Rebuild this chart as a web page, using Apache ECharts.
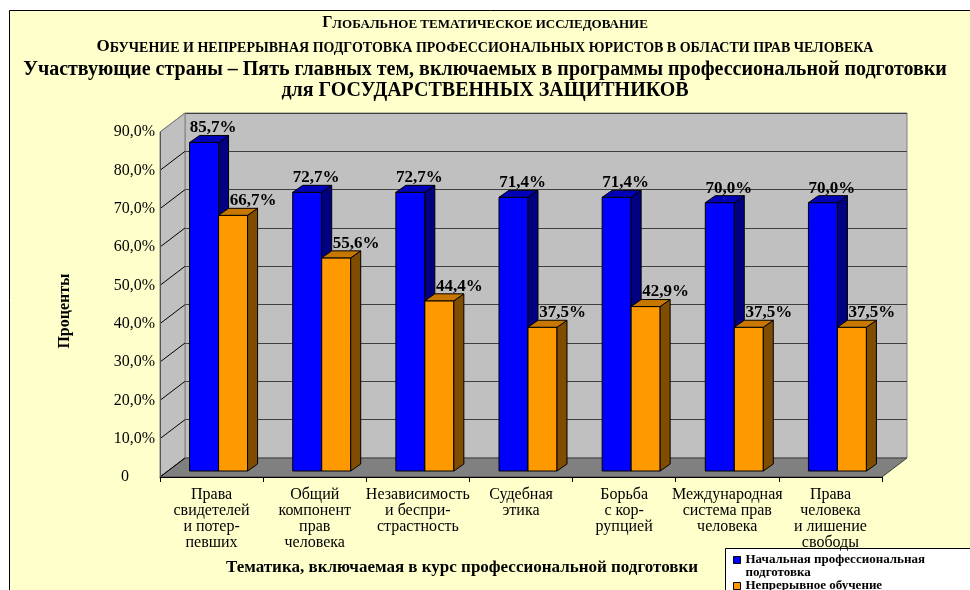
<!DOCTYPE html>
<html>
<head>
<meta charset="utf-8">
<style>
  html, body { margin: 0; padding: 0; background: #fff; overflow: hidden; }
  #main { width: 970px; height: 590px; }
</style>
<script src="https://cdn.jsdelivr.net/npm/echarts@6.0.0/dist/echarts.min.js"></script>
</head>
<body>
<div id="main"></div>
<script>
const categories = [
  'Права\nсвидетелей\nи потер-\nпевших',
  'Общий\nкомпонент\nправ\nчеловека',
  'Независимость\nи беспри-\nстрастность',
  'Судебная\nэтика',
  'Борьба\nс кор-\nрупцией',
  'Международная\nсистема прав\nчеловека',
  'Права\nчеловека\nи лишение\nсвободы',
]
const initialTraining = [85.7, 72.7, 72.7, 71.4, 71.4, 70.0, 70.0]
const continuingEducation = [66.7, 55.6, 44.4, 37.5, 42.9, 37.5, 37.5]
const yTicks = [0, 10, 20, 30, 40, 50, 60, 70, 80, 90]

const seriesNames = ['Начальная профессиональная подготовка', 'Непрерывное обучение']

const SERIF = '"Liberation Serif", "Times New Roman", serif'
const GRID = { left: 160, right: 88, top: 132, bottom: 113 }
const WALL = { dx: 25, dy: -19 }
const GROUP = { dx: 7, dy: -6 }
const DEPTH = { dx: 10, dy: -7 }
const BAR_W = 29
const LABEL_DX = [9, 20]
const COLORS = [
  { front: '#0000ff', side: '#000080', top: '#0000b8' },
  { front: '#ff9900', side: '#7f4c00', top: '#c87800' },
]

const pct = v => v.toFixed(1).replace('.', ',') + '%'

function renderWalls(params, api) {
  const bw = api.size([1, 0])[0]
  const first = api.coord([0, 0])
  const last = api.coord([categories.length - 1, 0])
  const x0 = first[0] - bw / 2
  const x1 = last[0] + bw / 2
  const y0 = first[1]
  const yTop = api.coord([0, yTicks[yTicks.length - 1]])[1]

  const children = [
    {
      type: 'polygon',
      shape: { points: [[x0, y0], [x0, yTop], [x0 + WALL.dx, yTop + WALL.dy], [x0 + WALL.dx, y0 + WALL.dy]] },
      style: { fill: '#c0c0c0', stroke: '#808080', lineWidth: 1 },
    },
    {
      type: 'polygon',
      shape: { points: [[x0, y0], [x1, y0], [x1 + WALL.dx, y0 + WALL.dy], [x0 + WALL.dx, y0 + WALL.dy]] },
      style: { fill: '#808080', stroke: '#404040', lineWidth: 1 },
    },
  ]
  yTicks.forEach(v => {
    const y = api.coord([0, v])[1]
    children.push({
      type: 'line',
      shape: { x1: x0, y1: y, x2: x0 + WALL.dx, y2: y + WALL.dy },
      style: { stroke: v === yTicks[yTicks.length - 1] ? '#808080' : '#000', lineWidth: 1 },
    })
  })
  return { type: 'group', children }
}

function renderBar(seriesIdx) {
  return (params, api) => {
    const idx = api.value(0)
    const val = api.value(1)
    const base = api.coord([idx, 0])
    const top = api.coord([idx, val])
    const x1 = base[0] + GROUP.dx - BAR_W + seriesIdx * BAR_W
    const x2 = x1 + BAR_W
    const yb = base[1] + GROUP.dy
    const yt = top[1] + GROUP.dy
    const c = COLORS[seriesIdx]
    const edge = { stroke: '#000', lineWidth: 1 }

    return {
      type: 'group',
      children: [
        {
          type: 'polygon',
          shape: { points: [[x1, yb], [x2, yb], [x2, yt], [x1, yt]] },
          style: Object.assign({ fill: c.front }, edge),
        },
        {
          type: 'polygon',
          shape: { points: [[x2, yb], [x2 + DEPTH.dx, yb + DEPTH.dy], [x2 + DEPTH.dx, yt + DEPTH.dy], [x2, yt]] },
          style: Object.assign({ fill: c.side }, edge),
        },
        {
          type: 'polygon',
          shape: { points: [[x1, yt], [x2, yt], [x2 + DEPTH.dx, yt + DEPTH.dy], [x1 + DEPTH.dx, yt + DEPTH.dy]] },
          style: Object.assign({ fill: c.top }, edge),
        },
        {
          type: 'text',
          z2: 10,
          style: {
            text: pct(val),
            x: (x1 + x2) / 2 + LABEL_DX[seriesIdx],
            y: yt + DEPTH.dy + 1,
            align: 'center',
            verticalAlign: 'bottom',
            font: 'bold 17px ' + SERIF,
            fill: '#000',
          },
        },
      ],
    }
  }
}

const chart = echarts.init(document.getElementById('main'))

const option = {
  backgroundColor: '#fff',
  animation: false,
  title: [
    {
      text: '{a|Г}{b|ЛОБАЛЬНОЕ ТЕМАТИЧЕСКОЕ ИССЛЕДОВАНИЕ}',
      left: 'center',
      top: 15,
      padding: 0,
      textStyle: {
        rich: {
          a: { fontFamily: SERIF, fontWeight: 'bold', fontSize: 16, lineHeight: 16, verticalAlign: 'bottom', color: '#000' },
          b: { fontFamily: SERIF, fontWeight: 'bold', fontSize: 13, lineHeight: 13, verticalAlign: 'bottom', color: '#000' },
        },
      },
    },
    {
      text: '{a|О}{b|БУЧЕНИЕ И НЕПРЕРЫВНАЯ ПОДГОТОВКА ПРОФЕССИОНАЛЬНЫХ ЮРИСТОВ В ОБЛАСТИ ПРАВ ЧЕЛОВЕКА}',
      left: 'center',
      top: 38,
      padding: 0,
      textStyle: {
        rich: {
          a: { fontFamily: SERIF, fontWeight: 'bold', fontSize: 17, lineHeight: 17, verticalAlign: 'bottom', color: '#000' },
          b: { fontFamily: SERIF, fontWeight: 'bold', fontSize: 14, lineHeight: 14, verticalAlign: 'bottom', color: '#000' },
        },
      },
    },
    {
      text: 'Участвующие страны – Пять главных тем, включаемых в программы профессиональной подготовки\nдля ГОСУДАРСТВЕННЫХ ЗАЩИТНИКОВ',
      left: 'center',
      top: 59,
      padding: 0,
      textStyle: { fontFamily: SERIF, fontWeight: 'bold', fontSize: 20, lineHeight: 21, color: '#000' },
    },
  ],
  graphic: [
    {
      type: 'rect',
      z: -100,
      silent: true,
      shape: { x: 9, y: 10, width: 2000, height: 2000 },
      style: { fill: '#ffffcc' },
    },
    {
      type: 'polyline',
      z: -99,
      silent: true,
      shape: { points: [[9.5, 2000], [9.5, 10.5], [2000, 10.5]] },
      style: { fill: null, stroke: '#000', lineWidth: 1 },
    },
    {
      type: 'rect',
      silent: true,
      shape: { x: 725.5, y: 548.5, width: 300, height: 100 },
      style: { fill: '#fff', stroke: '#000', lineWidth: 1 },
    },
  ],
  legend: {
    type: 'plain',
    orient: 'vertical',
    left: 733,
    top: 553,
    height: 80,
    padding: 0,
    itemWidth: 7,
    itemHeight: 19,
    itemGap: -3,
    selectedMode: false,
    itemStyle: { borderColor: '#000', borderWidth: 1 },
    textStyle: { fontFamily: SERIF, fontWeight: 'bold', fontSize: 13, lineHeight: 13, color: '#000' },
    formatter: name => name.replace(' подготовка', '\nподготовка'),
    data: [
      { name: seriesNames[0], icon: 'path://M0,0L7,0L7,7L0,7ZM0,19' },
      { name: seriesNames[1], icon: 'path://M0,6L7,6L7,13L0,13ZM0,0M0,19' },
    ],
  },
  grid: [
    { left: GRID.left, right: GRID.right, top: GRID.top, bottom: GRID.bottom },
    {
      show: true,
      left: GRID.left + WALL.dx,
      right: GRID.right - WALL.dx,
      top: GRID.top + WALL.dy,
      bottom: GRID.bottom - WALL.dy,
      backgroundColor: '#c0c0c0',
      borderColor: '#808080',
      borderWidth: 1,
    },
  ],
  xAxis: [
    {
      type: 'category',
      gridIndex: 0,
      data: categories,
      z: 3,
      axisLine: { lineStyle: { color: '#000', width: 1 } },
      axisTick: { show: true, length: 5, lineStyle: { color: '#000' } },
      axisLabel: {
        interval: 0,
        margin: 10,
        color: '#000',
        fontFamily: SERIF,
        fontSize: 16,
        lineHeight: 16,
      },
      name: 'Тематика, включаемая в курс профессиональной подготовки',
      nameLocation: 'middle',
      nameGap: 82,
      nameTextStyle: {
        fontFamily: SERIF,
        fontWeight: 'bold',
        fontSize: 17,
        color: '#000',
        padding: [0, 118, 0, 0],
      },
    },
    {
      type: 'category',
      gridIndex: 1,
      data: categories,
      show: false,
    },
  ],
  yAxis: [
    {
      type: 'value',
      gridIndex: 0,
      min: 0,
      max: 90,
      interval: 10,
      z: 3,
      axisLine: { show: true, lineStyle: { color: '#555' } },
      axisTick: { show: false },
      splitLine: { show: false },
      axisLabel: {
        margin: 5,
        color: '#000',
        fontFamily: SERIF,
        fontSize: 16,
        formatter: v => (v === 0 ? '{z|0}' : pct(v)),
        rich: {
          z: { fontFamily: SERIF, fontSize: 16, color: '#000', padding: [0, 26, 0, 0] },
        },
      },
      name: 'Проценты',
      nameLocation: 'middle',
      nameGap: 87,
      nameTextStyle: {
        fontFamily: SERIF,
        fontWeight: 'bold',
        fontSize: 16,
        color: '#000',
        padding: [0, 13, 0, 0],
      },
    },
    {
      type: 'value',
      gridIndex: 1,
      min: 0,
      max: 90,
      interval: 10,
      axisLine: { show: false },
      axisTick: { show: false },
      axisLabel: { show: false },
      splitLine: { show: true, lineStyle: { color: '#404040', width: 1 } },
    },
  ],
  series: [
    {
      type: 'custom',
      name: 'walls',
      xAxisIndex: 0,
      yAxisIndex: 0,
      z: 1,
      silent: true,
      renderItem: renderWalls,
      data: [[0, 0]],
    },
    {
      type: 'custom',
      name: seriesNames[0],
      xAxisIndex: 0,
      yAxisIndex: 0,
      z: 4,
      itemStyle: { color: COLORS[0].front, borderColor: '#000', borderWidth: 1 },
      renderItem: renderBar(0),
      data: initialTraining.map((v, i) => [i, v]),
    },
    {
      type: 'custom',
      name: seriesNames[1],
      xAxisIndex: 0,
      yAxisIndex: 0,
      z: 4,
      itemStyle: { color: COLORS[1].front, borderColor: '#000', borderWidth: 1 },
      renderItem: renderBar(1),
      data: continuingEducation.map((v, i) => [i, v]),
    },
  ],
}

chart.setOption(option)
</script>
</body>
</html>
